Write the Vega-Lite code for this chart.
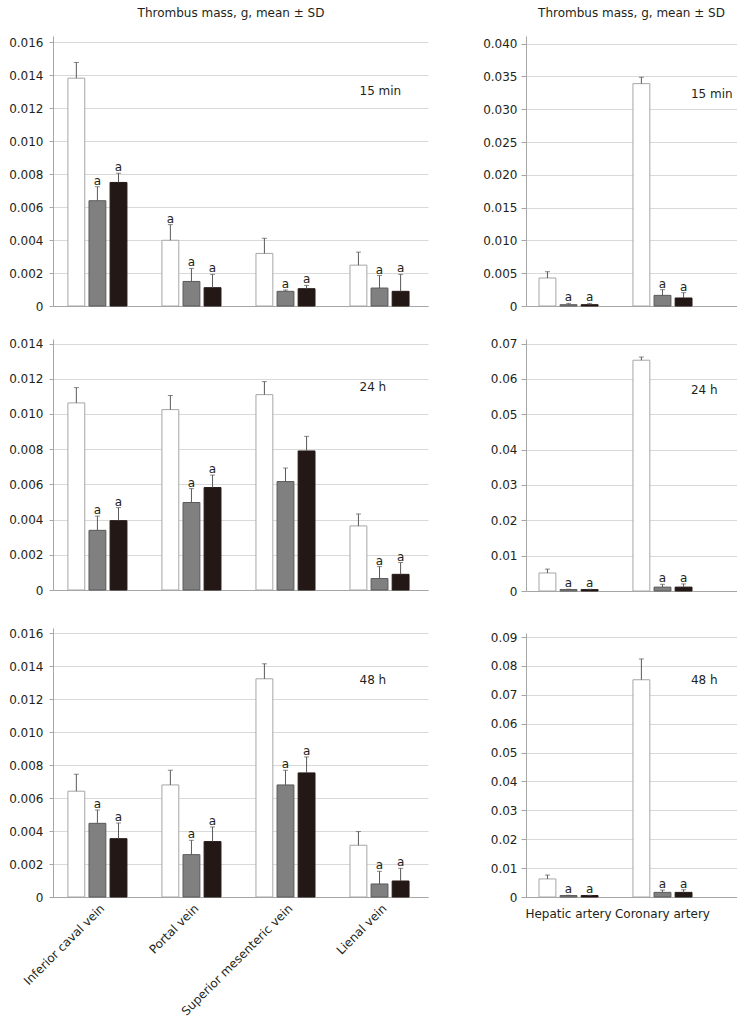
{
  "$schema": "https://vega.github.io/schema/vega-lite/v6.json",
  "background": "white",
  "padding": {"left": 8, "top": 7, "right": 0, "bottom": 0},
  "datasets": {
    "v15": [
      {"site": "Inferior caval vein", "group": "Group 1", "mean": 0.01383, "hi": 0.01478, "sig": ""},
      {"site": "Inferior caval vein", "group": "Group 2", "mean": 0.00639, "hi": 0.00724, "sig": "a"},
      {"site": "Inferior caval vein", "group": "Group 3", "mean": 0.0075, "hi": 0.00806, "sig": "a"},
      {"site": "Portal vein", "group": "Group 1", "mean": 0.00399, "hi": 0.00494, "sig": "a"},
      {"site": "Portal vein", "group": "Group 2", "mean": 0.00149, "hi": 0.00228, "sig": "a"},
      {"site": "Portal vein", "group": "Group 3", "mean": 0.00111, "hi": 0.00192, "sig": "a"},
      {"site": "Superior mesenteric vein", "group": "Group 1", "mean": 0.00319, "hi": 0.00411, "sig": ""},
      {"site": "Superior mesenteric vein", "group": "Group 2", "mean": 0.00089, "hi": 0.00097, "sig": "a"},
      {"site": "Superior mesenteric vein", "group": "Group 3", "mean": 0.00105, "hi": 0.00125, "sig": "a"},
      {"site": "Lienal vein", "group": "Group 1", "mean": 0.00248, "hi": 0.00327, "sig": ""},
      {"site": "Lienal vein", "group": "Group 2", "mean": 0.00109, "hi": 0.00185, "sig": "a"},
      {"site": "Lienal vein", "group": "Group 3", "mean": 0.00089, "hi": 0.00192, "sig": "a"}
    ],
    "v24": [
      {"site": "Inferior caval vein", "group": "Group 1", "mean": 0.01063, "hi": 0.0115, "sig": ""},
      {"site": "Inferior caval vein", "group": "Group 2", "mean": 0.00339, "hi": 0.0042, "sig": "a"},
      {"site": "Inferior caval vein", "group": "Group 3", "mean": 0.00394, "hi": 0.00468, "sig": "a"},
      {"site": "Portal vein", "group": "Group 1", "mean": 0.01025, "hi": 0.01105, "sig": ""},
      {"site": "Portal vein", "group": "Group 2", "mean": 0.00497, "hi": 0.00576, "sig": "a"},
      {"site": "Portal vein", "group": "Group 3", "mean": 0.00582, "hi": 0.00653, "sig": "a"},
      {"site": "Superior mesenteric vein", "group": "Group 1", "mean": 0.0111, "hi": 0.01184, "sig": ""},
      {"site": "Superior mesenteric vein", "group": "Group 2", "mean": 0.00616, "hi": 0.00693, "sig": ""},
      {"site": "Superior mesenteric vein", "group": "Group 3", "mean": 0.0079, "hi": 0.00873, "sig": ""},
      {"site": "Lienal vein", "group": "Group 1", "mean": 0.00364, "hi": 0.00432, "sig": ""},
      {"site": "Lienal vein", "group": "Group 2", "mean": 0.00065, "hi": 0.00133, "sig": "a"},
      {"site": "Lienal vein", "group": "Group 3", "mean": 0.00089, "hi": 0.00156, "sig": "a"}
    ],
    "v48": [
      {"site": "Inferior caval vein", "group": "Group 1", "mean": 0.00642, "hi": 0.00745, "sig": ""},
      {"site": "Inferior caval vein", "group": "Group 2", "mean": 0.00447, "hi": 0.00528, "sig": "a"},
      {"site": "Inferior caval vein", "group": "Group 3", "mean": 0.00354, "hi": 0.00449, "sig": "a"},
      {"site": "Portal vein", "group": "Group 1", "mean": 0.0068, "hi": 0.00769, "sig": ""},
      {"site": "Portal vein", "group": "Group 2", "mean": 0.00257, "hi": 0.00344, "sig": "a"},
      {"site": "Portal vein", "group": "Group 3", "mean": 0.00336, "hi": 0.00425, "sig": "a"},
      {"site": "Superior mesenteric vein", "group": "Group 1", "mean": 0.01324, "hi": 0.01415, "sig": ""},
      {"site": "Superior mesenteric vein", "group": "Group 2", "mean": 0.0068, "hi": 0.00769, "sig": "a"},
      {"site": "Superior mesenteric vein", "group": "Group 3", "mean": 0.00753, "hi": 0.0085, "sig": "a"},
      {"site": "Lienal vein", "group": "Group 1", "mean": 0.00314, "hi": 0.00397, "sig": ""},
      {"site": "Lienal vein", "group": "Group 2", "mean": 0.00079, "hi": 0.00156, "sig": "a"},
      {"site": "Lienal vein", "group": "Group 3", "mean": 0.00097, "hi": 0.00174, "sig": "a"}
    ],
    "a15": [
      {"site": "Hepatic artery", "group": "Group 1", "mean": 0.00427, "hi": 0.00523, "sig": ""},
      {"site": "Hepatic artery", "group": "Group 2", "mean": 0.0002, "hi": 0.0004, "sig": "a"},
      {"site": "Hepatic artery", "group": "Group 3", "mean": 0.0002, "hi": 0.0004, "sig": "a"},
      {"site": "Coronary artery", "group": "Group 1", "mean": 0.0339, "hi": 0.03487, "sig": ""},
      {"site": "Coronary artery", "group": "Group 2", "mean": 0.00162, "hi": 0.00249, "sig": "a"},
      {"site": "Coronary artery", "group": "Group 3", "mean": 0.00122, "hi": 0.00203, "sig": "a"}
    ],
    "a24": [
      {"site": "Hepatic artery", "group": "Group 1", "mean": 0.0051, "hi": 0.0062, "sig": ""},
      {"site": "Hepatic artery", "group": "Group 2", "mean": 0.0004, "hi": 0.0005, "sig": "a"},
      {"site": "Hepatic artery", "group": "Group 3", "mean": 0.0004, "hi": 0.0005, "sig": "a"},
      {"site": "Coronary artery", "group": "Group 1", "mean": 0.0653, "hi": 0.0662, "sig": ""},
      {"site": "Coronary artery", "group": "Group 2", "mean": 0.0011, "hi": 0.0019, "sig": "a"},
      {"site": "Coronary artery", "group": "Group 3", "mean": 0.0011, "hi": 0.002, "sig": "a"}
    ],
    "a48": [
      {"site": "Hepatic artery", "group": "Group 1", "mean": 0.00625, "hi": 0.0076, "sig": ""},
      {"site": "Hepatic artery", "group": "Group 2", "mean": 0.0005, "hi": 0.0006, "sig": "a"},
      {"site": "Hepatic artery", "group": "Group 3", "mean": 0.0005, "hi": 0.0006, "sig": "a"},
      {"site": "Coronary artery", "group": "Group 1", "mean": 0.0752, "hi": 0.0824, "sig": ""},
      {"site": "Coronary artery", "group": "Group 2", "mean": 0.0016, "hi": 0.0024, "sig": "a"},
      {"site": "Coronary artery", "group": "Group 3", "mean": 0.0016, "hi": 0.0025, "sig": "a"}
    ],
    "notes": [
      {"panel": "v15", "site": "Lienal vein", "label": "15 min", "y": 0.01306},
      {"panel": "a15", "site": "Coronary artery", "label": "15 min", "y": 0.03238},
      {"panel": "v24", "site": "Lienal vein", "label": "24 h", "y": 0.01153},
      {"panel": "a24", "site": "Coronary artery", "label": "24 h", "y": 0.057},
      {"panel": "v48", "site": "Lienal vein", "label": "48 h", "y": 0.01315},
      {"panel": "a48", "site": "Coronary artery", "label": "48 h", "y": 0.075}
    ]
  },
  "spacing": 54,
  "hconcat": [
    {
      "spacing": 0,
      "vconcat": [
        {
          "width": 375, "height": 270,
          "title": {"text": "Thrombus mass, g, mean ± SD", "offset": 6.7, "dx": -9.5, "frame": "group", "anchor": "middle", "baseline": "alphabetic", "fontSize": 12, "fontWeight": "normal", "font": "DejaVu Sans", "color": "#231f20"},
          "data": {"name": "v15"},
          "encoding": {
            "x": {"field": "site", "type": "nominal", "sort": ["Inferior caval vein", "Portal vein", "Superior mesenteric vein", "Lienal vein"], "scale": {"paddingInner": 0.372, "paddingOuter": 0.18, "align": 0.44}, "axis": {"labels": false, "ticks": false, "title": null, "grid": false, "minExtent": 30.5}},
            "y": {"field": "mean", "type": "quantitative", "scale": {"domain": [0, 0.016389], "nice": false}, "axis": {"values": [0, 0.002, 0.004, 0.006, 0.008, 0.01, 0.012, 0.014, 0.016], "labelExpr": "datum.value === 0 ? '0' : format(datum.value, '.3f')", "tickSize": 4, "labelPadding": 6, "title": null}}
          },
          "layer": [
            {"mark": {"type": "bar", "strokeWidth": 1}, "encoding": {"xOffset": {"field": "group", "scale": {"paddingInner": 0.2, "paddingOuter": 0}}, "fill": {"field": "group", "scale": {"range": ["#ffffff", "#808080", "#231815"]}, "legend": null}, "stroke": {"field": "group", "scale": {"range": ["#a6a6a6", "#5a5a5a", "#231815"]}, "legend": null}}},
            {"mark": {"type": "rule", "color": "#595959", "strokeWidth": 1}, "encoding": {"xOffset": {"field": "group"}, "y2": {"field": "hi"}}},
            {"mark": {"type": "tick", "color": "#595959", "size": 5, "thickness": 1}, "encoding": {"xOffset": {"field": "group"}, "y": {"field": "hi", "type": "quantitative", "title": null}}},
            {"transform": [{"filter": "datum.sig === 'a'"}], "mark": {"type": "text", "fontSize": 12, "color": "#231f20", "baseline": "alphabetic", "dy": -2}, "encoding": {"xOffset": {"field": "group"}, "y": {"field": "hi", "type": "quantitative", "title": null}, "text": {"field": "sig"}}},
            {"data": {"name": "notes"}, "transform": [{"filter": "datum.panel === 'v15'"}], "mark": {"type": "text", "fontSize": 12, "color": "#231f20", "align": "left", "baseline": "middle", "dx": -20}, "encoding": {"y": {"field": "y", "type": "quantitative", "title": null}, "text": {"field": "label"}}}
          ]
        },
        {
          "width": 375, "height": 251,
          "data": {"name": "v24"},
          "encoding": {
            "x": {"field": "site", "type": "nominal", "sort": ["Inferior caval vein", "Portal vein", "Superior mesenteric vein", "Lienal vein"], "scale": {"paddingInner": 0.372, "paddingOuter": 0.18, "align": 0.44}, "axis": {"labels": false, "ticks": false, "title": null, "grid": false, "minExtent": 37}},
            "y": {"field": "mean", "type": "quantitative", "scale": {"domain": [0, 0.014261], "nice": false}, "axis": {"values": [0, 0.002, 0.004, 0.006, 0.008, 0.01, 0.012, 0.014], "labelExpr": "datum.value === 0 ? '0' : format(datum.value, '.3f')", "tickSize": 4, "labelPadding": 6, "title": null}}
          },
          "layer": [
            {"mark": {"type": "bar", "strokeWidth": 1}, "encoding": {"xOffset": {"field": "group", "scale": {"paddingInner": 0.2, "paddingOuter": 0}}, "fill": {"field": "group", "scale": {"range": ["#ffffff", "#808080", "#231815"]}, "legend": null}, "stroke": {"field": "group", "scale": {"range": ["#a6a6a6", "#5a5a5a", "#231815"]}, "legend": null}}},
            {"mark": {"type": "rule", "color": "#595959", "strokeWidth": 1}, "encoding": {"xOffset": {"field": "group"}, "y2": {"field": "hi"}}},
            {"mark": {"type": "tick", "color": "#595959", "size": 5, "thickness": 1}, "encoding": {"xOffset": {"field": "group"}, "y": {"field": "hi", "type": "quantitative", "title": null}}},
            {"transform": [{"filter": "datum.sig === 'a'"}], "mark": {"type": "text", "fontSize": 12, "color": "#231f20", "baseline": "alphabetic", "dy": -2}, "encoding": {"xOffset": {"field": "group"}, "y": {"field": "hi", "type": "quantitative", "title": null}, "text": {"field": "sig"}}},
            {"data": {"name": "notes"}, "transform": [{"filter": "datum.panel === 'v24'"}], "mark": {"type": "text", "fontSize": 12, "color": "#231f20", "align": "left", "baseline": "middle", "dx": -20}, "encoding": {"y": {"field": "y", "type": "quantitative", "title": null}, "text": {"field": "label"}}}
          ]
        },
        {
          "width": 375, "height": 269,
          "data": {"name": "v48"},
          "encoding": {
            "x": {"field": "site", "type": "nominal", "sort": ["Inferior caval vein", "Portal vein", "Superior mesenteric vein", "Lienal vein"], "scale": {"paddingInner": 0.372, "paddingOuter": 0.18, "align": 0.44}, "axis": {"labelAngle": -45, "labelAlign": "right", "labelBaseline": "middle", "labelPadding": 9, "labelOffset": 5, "ticks": false, "tickSize": 0, "title": null, "grid": false}},
            "y": {"field": "mean", "type": "quantitative", "scale": {"domain": [0, 0.016322], "nice": false}, "axis": {"values": [0, 0.002, 0.004, 0.006, 0.008, 0.01, 0.012, 0.014, 0.016], "labelExpr": "datum.value === 0 ? '0' : format(datum.value, '.3f')", "tickSize": 4, "labelPadding": 6, "title": null}}
          },
          "layer": [
            {"mark": {"type": "bar", "strokeWidth": 1}, "encoding": {"xOffset": {"field": "group", "scale": {"paddingInner": 0.2, "paddingOuter": 0}}, "fill": {"field": "group", "scale": {"range": ["#ffffff", "#808080", "#231815"]}, "legend": null}, "stroke": {"field": "group", "scale": {"range": ["#a6a6a6", "#5a5a5a", "#231815"]}, "legend": null}}},
            {"mark": {"type": "rule", "color": "#595959", "strokeWidth": 1}, "encoding": {"xOffset": {"field": "group"}, "y2": {"field": "hi"}}},
            {"mark": {"type": "tick", "color": "#595959", "size": 5, "thickness": 1}, "encoding": {"xOffset": {"field": "group"}, "y": {"field": "hi", "type": "quantitative", "title": null}}},
            {"transform": [{"filter": "datum.sig === 'a'"}], "mark": {"type": "text", "fontSize": 12, "color": "#231f20", "baseline": "alphabetic", "dy": -2}, "encoding": {"xOffset": {"field": "group"}, "y": {"field": "hi", "type": "quantitative", "title": null}, "text": {"field": "sig"}}},
            {"data": {"name": "notes"}, "transform": [{"filter": "datum.panel === 'v48'"}], "mark": {"type": "text", "fontSize": 12, "color": "#231f20", "align": "left", "baseline": "middle", "dx": -20}, "encoding": {"y": {"field": "y", "type": "quantitative", "title": null}, "text": {"field": "label"}}}
          ]
        }
      ]
    },
    {
      "spacing": 0,
      "vconcat": [
        {
          "width": 211, "height": 270,
          "title": {"text": "Thrombus mass, g, mean ± SD", "offset": 6.7, "frame": "group", "anchor": "middle", "baseline": "alphabetic", "fontSize": 12, "fontWeight": "normal", "font": "DejaVu Sans", "color": "#231f20"},
          "data": {"name": "a15"},
          "encoding": {
            "x": {"field": "site", "type": "nominal", "sort": ["Hepatic artery", "Coronary artery"], "scale": {"paddingInner": 0.372, "paddingOuter": 0.309, "align": 0.224}, "axis": {"labels": false, "ticks": false, "title": null, "grid": false, "minExtent": 31}},
            "y": {"field": "mean", "type": "quantitative", "scale": {"domain": [0, 0.041159], "nice": false}, "axis": {"values": [0, 0.005, 0.01, 0.015, 0.02, 0.025, 0.03, 0.035, 0.04], "labelExpr": "datum.value === 0 ? '0' : format(datum.value, '.3f')", "tickSize": 5, "labelPadding": 4, "title": null}}
          },
          "layer": [
            {"mark": {"type": "bar", "strokeWidth": 1}, "encoding": {"xOffset": {"field": "group", "scale": {"paddingInner": 0.2, "paddingOuter": 0}}, "fill": {"field": "group", "scale": {"range": ["#ffffff", "#808080", "#231815"]}, "legend": null}, "stroke": {"field": "group", "scale": {"range": ["#a6a6a6", "#5a5a5a", "#231815"]}, "legend": null}}},
            {"mark": {"type": "rule", "color": "#595959", "strokeWidth": 1}, "encoding": {"xOffset": {"field": "group"}, "y2": {"field": "hi"}}},
            {"mark": {"type": "tick", "color": "#595959", "size": 5, "thickness": 1}, "encoding": {"xOffset": {"field": "group"}, "y": {"field": "hi", "type": "quantitative", "title": null}}},
            {"transform": [{"filter": "datum.sig === 'a'"}], "mark": {"type": "text", "fontSize": 12, "color": "#231f20", "baseline": "alphabetic", "dy": -2}, "encoding": {"xOffset": {"field": "group"}, "y": {"field": "hi", "type": "quantitative", "title": null}, "text": {"field": "sig"}}},
            {"data": {"name": "notes"}, "transform": [{"filter": "datum.panel === 'a15'"}], "mark": {"type": "text", "fontSize": 12, "color": "#231f20", "align": "left", "baseline": "middle", "dx": 28.5}, "encoding": {"y": {"field": "y", "type": "quantitative", "title": null}, "text": {"field": "label"}}}
          ]
        },
        {
          "width": 211, "height": 252,
          "data": {"name": "a24"},
          "encoding": {
            "x": {"field": "site", "type": "nominal", "sort": ["Hepatic artery", "Coronary artery"], "scale": {"paddingInner": 0.372, "paddingOuter": 0.309, "align": 0.224}, "axis": {"labels": false, "ticks": false, "title": null, "grid": false, "minExtent": 39.5}},
            "y": {"field": "mean", "type": "quantitative", "scale": {"domain": [0, 0.071302], "nice": false}, "axis": {"values": [0, 0.01, 0.02, 0.03, 0.04, 0.05, 0.06, 0.07], "labelExpr": "datum.value === 0 ? '0' : format(datum.value, '.2f')", "tickSize": 5, "labelPadding": 4, "title": null}}
          },
          "layer": [
            {"mark": {"type": "bar", "strokeWidth": 1}, "encoding": {"xOffset": {"field": "group", "scale": {"paddingInner": 0.2, "paddingOuter": 0}}, "fill": {"field": "group", "scale": {"range": ["#ffffff", "#808080", "#231815"]}, "legend": null}, "stroke": {"field": "group", "scale": {"range": ["#a6a6a6", "#5a5a5a", "#231815"]}, "legend": null}}},
            {"mark": {"type": "rule", "color": "#595959", "strokeWidth": 1}, "encoding": {"xOffset": {"field": "group"}, "y2": {"field": "hi"}}},
            {"mark": {"type": "tick", "color": "#595959", "size": 5, "thickness": 1}, "encoding": {"xOffset": {"field": "group"}, "y": {"field": "hi", "type": "quantitative", "title": null}}},
            {"transform": [{"filter": "datum.sig === 'a'"}], "mark": {"type": "text", "fontSize": 12, "color": "#231f20", "baseline": "alphabetic", "dy": -2}, "encoding": {"xOffset": {"field": "group"}, "y": {"field": "hi", "type": "quantitative", "title": null}, "text": {"field": "sig"}}},
            {"data": {"name": "notes"}, "transform": [{"filter": "datum.panel === 'a24'"}], "mark": {"type": "text", "fontSize": 12, "color": "#231f20", "align": "left", "baseline": "middle", "dx": 28.5}, "encoding": {"y": {"field": "y", "type": "quantitative", "title": null}, "text": {"field": "label"}}}
          ]
        },
        {
          "width": 211, "height": 264,
          "data": {"name": "a48"},
          "encoding": {
            "x": {"field": "site", "type": "nominal", "sort": ["Hepatic artery", "Coronary artery"], "scale": {"paddingInner": 0.372, "paddingOuter": 0.309, "align": 0.224}, "axis": {"labelAngle": 0, "labelPadding": 11, "labelBaseline": "top", "ticks": false, "tickSize": 0, "title": null, "grid": false}},
            "y": {"field": "mean", "type": "quantitative", "scale": {"domain": [0, 0.091385], "nice": false}, "axis": {"values": [0, 0.01, 0.02, 0.03, 0.04, 0.05, 0.06, 0.07, 0.08, 0.09], "labelExpr": "datum.value === 0 ? '0' : format(datum.value, '.2f')", "tickSize": 5, "labelPadding": 4, "title": null}}
          },
          "layer": [
            {"mark": {"type": "bar", "strokeWidth": 1}, "encoding": {"xOffset": {"field": "group", "scale": {"paddingInner": 0.2, "paddingOuter": 0}}, "fill": {"field": "group", "scale": {"range": ["#ffffff", "#808080", "#231815"]}, "legend": null}, "stroke": {"field": "group", "scale": {"range": ["#a6a6a6", "#5a5a5a", "#231815"]}, "legend": null}}},
            {"mark": {"type": "rule", "color": "#595959", "strokeWidth": 1}, "encoding": {"xOffset": {"field": "group"}, "y2": {"field": "hi"}}},
            {"mark": {"type": "tick", "color": "#595959", "size": 5, "thickness": 1}, "encoding": {"xOffset": {"field": "group"}, "y": {"field": "hi", "type": "quantitative", "title": null}}},
            {"transform": [{"filter": "datum.sig === 'a'"}], "mark": {"type": "text", "fontSize": 12, "color": "#231f20", "baseline": "alphabetic", "dy": -2}, "encoding": {"xOffset": {"field": "group"}, "y": {"field": "hi", "type": "quantitative", "title": null}, "text": {"field": "sig"}}},
            {"data": {"name": "notes"}, "transform": [{"filter": "datum.panel === 'a48'"}], "mark": {"type": "text", "fontSize": 12, "color": "#231f20", "align": "left", "baseline": "middle", "dx": 28.5}, "encoding": {"y": {"field": "y", "type": "quantitative", "title": null}, "text": {"field": "label"}}}
          ]
        }
      ]
    }
  ],
  "config": {
    "view": {"stroke": null},
    "font": "DejaVu Sans",
    "axis": {"labelFont": "DejaVu Sans", "labelFontSize": 12, "labelColor": "#231f20", "domainColor": "#a6a6a6", "tickColor": "#a6a6a6", "gridColor": "#d9d9d9", "gridWidth": 1, "domainWidth": 1}
  }
}
